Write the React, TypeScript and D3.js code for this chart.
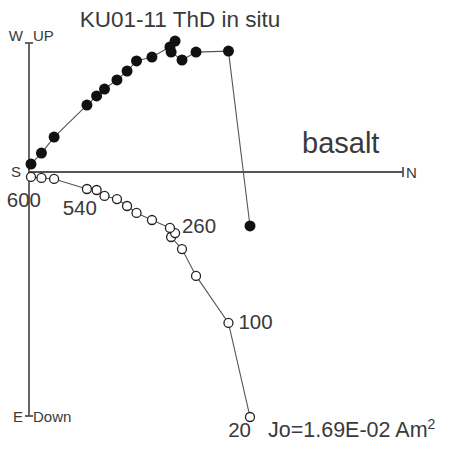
import React from 'react';
import * as d3 from 'd3';

// Thermal demagnetisation steps (°C)
const temps = [20, 100, 150, 200, 230, 245, 260, 300, 340, 380, 420, 460, 500, 540, 560, 580, 600];
// Components in 1e-3 Am^2
const north = [11.18, 10.09, 8.45, 7.74, 7.19, 7.39, 7.13, 6.22, 5.44, 4.96, 4.45, 3.82, 3.42, 2.93, 1.27, 0.63, 0.1];
const west = [-2.73, 6.12, 6.07, 5.67, 6.07, 6.63, 6.33, 5.82, 5.62, 5.11, 4.66, 4.2, 3.85, 3.39, 1.77, 0.96, 0.4];
const down = [12.4, 7.64, 5.26, 3.9, 3.29, 3.09, 2.83, 2.43, 2.07, 1.72, 1.37, 1.21, 0.91, 0.86, 0.35, 0.3, 0.25];
const labelTemps = [20, 100, 260, 540, 600];

// axis extents in the same units
const axisN = 18.92;
const axisUp = 6.53;
const axisDown = 12.35;

const W = 450;
const H = 449;
const font = 'Liberation Sans, Arial, Helvetica, sans-serif';
const textColor = '#3a3a3a';

const App: React.FC = () => {
  const x = d3.scaleLinear().domain([0, axisN]).range([29, 403]);
  // positive = down (or east for the horizontal projection)
  const y = d3.scaleLinear().domain([-axisUp, axisDown]).range([43, 416]);

  const horiz = north.map((n, i) => ({ x: x(n), y: y(-west[i]) }));
  const vert = north.map((n, i) => ({ x: x(n), y: y(down[i]) }));

  const line = d3.line<{ x: number; y: number }>().x(d => d.x).y(d => d.y);

  const x0 = x(0);
  const y0 = y(0);

  // offsets for step labels (placed next to the open symbols)
  const labelPos: Record<number, { dx: number; dy: number; anchor: string }> = {
    20: { dx: 1, dy: 20, anchor: 'end' },
    100: { dx: 10, dy: 6, anchor: 'start' },
    260: { dx: 12, dy: 5, anchor: 'start' },
    540: { dx: 10, dy: 26, anchor: 'end' },
    600: { dx: 10, dy: 30, anchor: 'end' },
  };

  return (
    <svg width={W} height={H} style={{ position: 'absolute', left: 0, top: 0, background: '#fff' }}>
      <g fontFamily={font} fill={textColor}>
        <text x={180} y={27} fontSize={22.5} textAnchor="middle">KU01-11 ThD in situ</text>
        <text x={302} y={153} fontSize={29}>basalt</text>
        <text x={268} y={437} fontSize={21.5}>
          Jo=1.69E-02 Am<tspan fontSize={14} dy={-8}>2</tspan>
        </text>
      </g>

      {/* axes */}
      <g stroke="#555" strokeWidth={1.8}>
        <line x1={x0} x2={x0} y1={y(-axisUp)} y2={y(axisDown)} />
        <line x1={x0} x2={x(axisN)} y1={y0} y2={y0} />
        <line x1={x0 - 4} x2={x0 + 4} y1={y(-axisUp)} y2={y(-axisUp)} />
        <line x1={x0 - 4} x2={x0 + 4} y1={y(axisDown)} y2={y(axisDown)} />
        <line x1={x(axisN)} x2={x(axisN)} y1={y0 - 5} y2={y0 + 5} />
      </g>
      <g fontFamily={font} fill={textColor} fontSize={15}>
        <text x={x0 - 6} y={41} textAnchor="end">W</text>
        <text x={x0 + 4} y={41}>UP</text>
        <text x={x0 - 8} y={177} textAnchor="end">S</text>
        <text x={x(axisN) + 3} y={178}>N</text>
        <text x={x0 - 6} y={422} textAnchor="end">E</text>
        <text x={x0 + 4} y={422}>Down</text>
      </g>

      {/* connecting lines */}
      <path d={line(horiz) ?? ''} fill="none" stroke="#555" strokeWidth={1.1} />
      <path d={line(vert) ?? ''} fill="none" stroke="#555" strokeWidth={1.1} />

      {/* horizontal projection: filled */}
      {horiz.map((p, i) => (
        <circle key={'h' + i} cx={p.x} cy={p.y} r={5.5} fill="#111" />
      ))}
      {/* vertical projection: open */}
      {vert.map((p, i) => (
        <circle key={'v' + i} cx={p.x} cy={p.y} r={4.5} fill="#fff" stroke="#222" strokeWidth={1.3} />
      ))}

      <g fontFamily={font} fill={textColor} fontSize={20.5}>
        {labelTemps.map(t => {
          const i = temps.indexOf(t);
          const o = labelPos[t];
          return (
            <text key={t} x={vert[i].x + o.dx} y={vert[i].y + o.dy} textAnchor={o.anchor}>
              {t}
            </text>
          );
        })}
      </g>
    </svg>
  );
};

export default App;
